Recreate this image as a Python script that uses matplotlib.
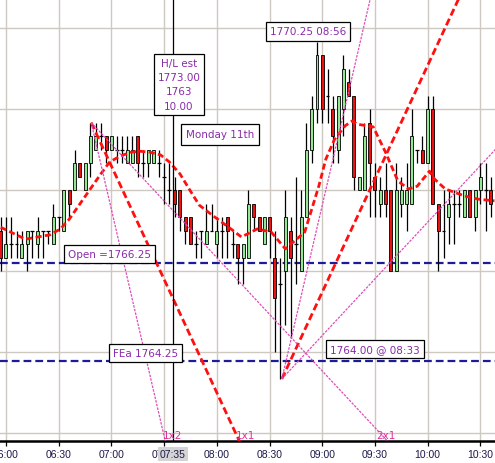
import numpy as np
import matplotlib.pyplot as plt

# 3-minute bars, first bar at 05:57 (x values are minutes after midnight)
first_bar = 357
bar_step = 3

opens = [1766.75, 1766.25, 1766.5, 1766.5, 1766.25, 1766.5, 1766.75, 1766.5, 1766.75, 1766.75,
         1766.5, 1767.0, 1766.75, 1767.5, 1767.5, 1768.0, 1767.5, 1768.0, 1768.25, 1768.5,
         1768.5, 1768.25, 1768.25, 1768.25, 1768.0, 1768.0, 1768.5, 1768.0, 1768.0, 1768.0,
         1768.0, 1767.75, 1767.5, 1767.5, 1767.5, 1767.0, 1767.0, 1766.5, 1766.75, 1766.5,
         1766.75, 1766.5, 1766.75, 1767.0, 1766.5, 1766.5, 1766.25, 1766.25, 1767.25, 1767.0,
         1766.5, 1767.0, 1766.25, 1765.75, 1766.0, 1766.75, 1766.5, 1766.0, 1767.0, 1768.25,
         1769.0, 1770.0, 1769.25, 1769.0, 1768.25, 1769.0, 1769.5, 1769.25, 1767.5, 1767.5,
         1768.75, 1767.75, 1767.25, 1767.5, 1767.5, 1766.0, 1767.25, 1767.25, 1767.25, 1768.25,
         1768.25, 1768.0, 1769.0, 1767.25, 1766.75, 1767.0, 1767.25, 1767.25, 1767.0, 1767.5,
         1767.0, 1767.5, 1767.5, 1767.5]
highs = [1767.0, 1767.0, 1767.0, 1766.75, 1766.75, 1766.75, 1766.75, 1767.0, 1766.75, 1766.75,
         1767.25, 1767.0, 1767.5, 1767.5, 1768.25, 1768.0, 1768.0, 1768.75, 1768.75, 1768.75,
         1768.5, 1768.5, 1768.5, 1768.5, 1768.5, 1768.5, 1768.5, 1768.25, 1768.25, 1768.25,
         1768.25, 1768.0, 1768.0, 1767.75, 1767.5, 1767.0, 1767.0, 1766.75, 1766.75, 1767.25,
         1767.25, 1767.0, 1767.0, 1767.0, 1766.75, 1766.5, 1766.5, 1767.5, 1767.25, 1767.0,
         1767.0, 1767.0, 1766.75, 1766.25, 1767.5, 1767.0, 1767.75, 1767.5, 1768.75, 1769.25,
         1770.25, 1770.0, 1769.75, 1769.25, 1769.25, 1770.0, 1769.75, 1769.25, 1767.75, 1768.75,
         1769.0, 1768.0, 1767.75, 1768.0, 1767.5, 1768.0, 1767.75, 1768.0, 1769.0, 1768.25,
         1768.5, 1769.25, 1769.25, 1767.25, 1767.5, 1767.5, 1767.5, 1767.5, 1767.5, 1767.5,
         1767.5, 1768.0, 1768.0, 1767.75]
lows = [1766.0, 1766.25, 1766.25, 1766.25, 1766.25, 1766.0, 1766.25, 1766.25, 1766.25, 1766.5,
        1766.5, 1766.75, 1766.75, 1767.0, 1767.5, 1767.75, 1767.5, 1767.75, 1768.25, 1768.25,
        1768.0, 1768.25, 1768.0, 1768.0, 1768.0, 1768.0, 1767.75, 1767.75, 1767.75, 1768.0,
        1767.75, 1767.25, 1767.25, 1767.0, 1766.75, 1766.5, 1766.5, 1766.25, 1766.25, 1766.5,
        1766.75, 1766.25, 1766.25, 1766.25, 1766.25, 1765.75, 1765.75, 1766.25, 1766.75, 1766.75,
        1766.5, 1766.25, 1764.5, 1764.0, 1765.0, 1764.75, 1765.75, 1766.0, 1767.0, 1768.0,
        1768.75, 1768.75, 1768.75, 1768.0, 1768.0, 1768.5, 1769.25, 1767.5, 1767.5, 1767.5,
        1767.0, 1767.0, 1767.0, 1767.0, 1766.0, 1766.0, 1767.0, 1766.75, 1767.25, 1768.0,
        1768.0, 1768.0, 1767.25, 1766.0, 1766.25, 1766.5, 1766.5, 1767.0, 1767.0, 1767.0,
        1766.75, 1767.25, 1766.75, 1767.0]
closes = [1766.25, 1766.5, 1766.5, 1766.5, 1766.5, 1766.75, 1766.75, 1766.75, 1766.75, 1766.75,
          1767.0, 1767.0, 1767.5, 1767.25, 1768.0, 1767.75, 1768.0, 1768.5, 1768.5, 1768.5,
          1768.25, 1768.5, 1768.25, 1768.25, 1768.25, 1768.25, 1768.0, 1768.0, 1768.25, 1768.25,
          1768.0, 1767.75, 1767.5, 1767.25, 1767.0, 1766.75, 1766.5, 1766.5, 1766.75, 1766.75,
          1766.75, 1766.75, 1766.75, 1766.75, 1766.5, 1766.25, 1766.5, 1767.25, 1767.0, 1766.75,
          1767.0, 1766.75, 1765.5, 1765.75, 1767.0, 1766.25, 1766.5, 1767.0, 1768.25, 1769.0,
          1770.0, 1769.0, 1769.25, 1768.5, 1769.25, 1769.75, 1769.25, 1767.75, 1767.75, 1768.5,
          1768.0, 1767.5, 1767.5, 1767.25, 1766.0, 1767.5, 1767.5, 1767.5, 1768.5, 1768.25,
          1768.0, 1769.0, 1767.25, 1766.75, 1766.75, 1767.25, 1767.25, 1767.25, 1767.5, 1767.0,
          1767.5, 1767.75, 1767.5, 1767.25]

# moving average (time in minutes, price)
ma_times = [357, 371, 385, 391, 396, 402, 408, 414, 419, 425, 431, 436, 442, 448, 453, 459,
            465, 470, 478, 488, 494, 503, 511, 519, 530, 538, 542, 547, 553, 557, 560, 569,
            576, 583, 589, 594, 601, 604, 610, 621, 629, 638]
ma_values = [1766.81, 1766.59, 1766.67, 1766.78, 1766.96, 1767.24, 1767.52, 1767.80, 1768.02,
             1768.13, 1768.20, 1768.22, 1768.20, 1768.15, 1768.02, 1767.80, 1767.48, 1767.22,
             1767.02, 1766.78, 1766.63, 1766.78, 1766.72, 1766.41, 1766.72, 1767.57, 1768.07,
             1768.44, 1768.69, 1768.78, 1768.72, 1768.67, 1768.20, 1767.67, 1767.52, 1767.57,
             1767.85, 1767.70, 1767.52, 1767.39, 1767.33, 1767.30]

open_level = 1766.15
fea_level = 1764.33
cursor_time = 455  # 07:35

# gann fan origins and 1x1 slope (points per minute)
peak_time, peak_price = 408.5, 1768.75
low_time, low_price = 517, 1764.00
slope_1x1 = 0.07

tick_times = [360, 390, 420, 450, 480, 510, 540, 570, 600, 630]
tick_labels = ["06:00", "06:30", "07:00", "07:30", "08:00", "08:30", "09:00", "09:30", "10:00", "10:30"]
grid_prices = [1763.0, 1764.5, 1766.0, 1767.5, 1769.0, 1770.5]

TXT = '#8a2aa8'
PINK = '#e04cb8'

fig = plt.figure(figsize=(4.95, 4.64), dpi=100)
ax = fig.add_axes([0, 22 / 464, 1, 442 / 464])
ax.set_xlim(356.6, 638.3)
ax.set_ylim(1762.85, 1771.04)

for t in tick_times:
    ax.axvline(t, color='#cdc9c0', lw=1.0, zorder=0)
for p in grid_prices:
    ax.axhline(p, color='#cdc9c0', lw=1.0, zorder=0)

# open / FEa levels
ax.axhline(open_level, color='#1c1c9a', lw=1.6, dashes=(3.5, 1.8), zorder=1)
ax.axhline(fea_level, color='#1c1c9a', lw=1.6, dashes=(3.5, 1.8), zorder=1)

# candles
o = np.array(opens)
h = np.array(highs)
l = np.array(lows)
c = np.array(closes)
t = first_bar + bar_step * np.arange(len(o))
ax.vlines(t, l, h, color='black', lw=0.9, zorder=2)
up = c > o
dn = c < o
doji = c == o
ax.bar(t[up], (c - o)[up], bottom=o[up], width=1.7, color='#94e894', edgecolor='black', lw=0.6, zorder=3)
ax.bar(t[dn], (o - c)[dn], bottom=c[dn], width=1.7, color='#ee1111', edgecolor='black', lw=0.6, zorder=3)
ax.hlines(o[doji], t[doji] - 1.1, t[doji] + 1.1, color='black', lw=0.9, zorder=3)

# moving average
ax.plot(ma_times, ma_values, color='#ff1010', lw=2.0, dashes=(2.2, 1.2), zorder=4)

# gann fan lines
span = np.array([0, 300])
ax.plot(peak_time + span, peak_price - slope_1x1 * span, color='#ff1010', lw=2.0, dashes=(2.6, 1.3), zorder=4)
ax.plot(low_time + span, low_price + slope_1x1 * span, color='#ff1010', lw=2.0, dashes=(2.6, 1.3), zorder=4)
ax.plot(peak_time + span, peak_price - 2 * slope_1x1 * span, color=PINK, lw=0.9, dashes=(2, 1), zorder=4)
ax.plot(peak_time + span, peak_price - 0.5 * slope_1x1 * span, color=PINK, lw=0.9, dashes=(2, 1), zorder=4)
ax.plot(low_time + span, low_price + 2 * slope_1x1 * span, color=PINK, lw=0.9, dashes=(2, 1), zorder=4)
ax.plot(low_time + span, low_price + 0.5 * slope_1x1 * span, color=PINK, lw=0.9, dashes=(2, 1), zorder=4)

ax.axvline(cursor_time, color='black', lw=0.9, zorder=5)

for lab, tx in [("1x2", 449.4), ("1x1", 490.9), ("2x1", 571.0)]:
    ax.text(tx, 1762.87, lab, color='#e0309a', fontsize=7.5, ha='left', va='bottom', zorder=6)

box = dict(boxstyle='square,pad=0.4', fc='white', ec='black', lw=0.9)
ax.text(458.5, 1769.46, "H/L est\n1773.00\n1763\n10.00", ha='center', va='center', color=TXT,
        fontsize=7.5, linespacing=1.55, bbox=dict(boxstyle='square,pad=0.35', fc='white', ec='black', lw=0.9), zorder=7)
ax.text(481.8, 1768.53, "Monday 11th", ha='center', va='center', color=TXT, fontsize=7.5,
        bbox=dict(boxstyle='square,pad=0.5', fc='white', ec='black', lw=0.9), zorder=7)
ax.text(531.9, 1770.44, "1770.25 08:56", ha='center', va='center', color=TXT, fontsize=7.5, bbox=box, zorder=7)
ax.text(418.9, 1766.31, "Open =1766.25", ha='center', va='center', color=TXT, fontsize=7.5, bbox=box, zorder=7)
ax.text(439.4, 1764.48, "FEa 1764.25", ha='center', va='center', color=TXT, fontsize=7.5, bbox=box, zorder=7)
ax.text(570.0, 1764.56, "1764.00 @ 08:33", ha='center', va='center', color=TXT, fontsize=7.5, bbox=box, zorder=7)

for s in ['left', 'right', 'top']:
    ax.spines[s].set_visible(False)
ax.spines['bottom'].set_linewidth(1.8)
ax.set_yticks([])
ax.set_xticks(tick_times)
ax.set_xticklabels(tick_labels, fontsize=7.5, color='#1a1a4a', family='Liberation Sans')
ax.tick_params(axis='x', direction='out', length=3.5, width=0.9, pad=2)

ax.text(cursor_time, -0.029, "07:35", transform=ax.get_xaxis_transform(), ha='center', va='center',
        fontsize=7.5, color='#1a1a4a', family='Liberation Sans', clip_on=False, zorder=8,
        bbox=dict(boxstyle='square,pad=0.2', fc='#d4d4d4', ec='none'))

fig.savefig("out.png", dpi=100)
